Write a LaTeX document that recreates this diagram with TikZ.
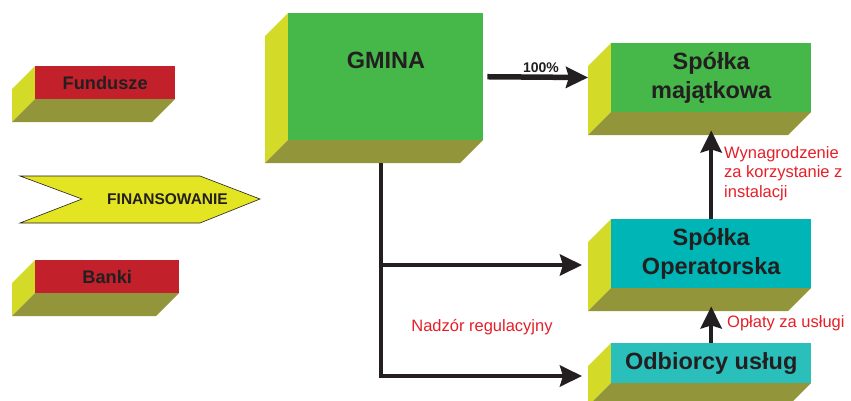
\documentclass[tikz,border=0pt]{standalone}
\usepackage{fontspec}
\setmainfont{Liberation Sans}
\usetikzlibrary{arrows.meta}
\definecolor{gGreen}{RGB}{70,183,73}
\definecolor{sideY}{RGB}{211,218,39}
\definecolor{sideO}{RGB}{146,149,58}
\definecolor{bRed}{RGB}{194,32,42}
\definecolor{tealA}{RGB}{0,181,181}
\definecolor{tealB}{RGB}{43,191,187}
\definecolor{arrY}{RGB}{227,228,34}
\definecolor{darkT}{RGB}{35,31,32}
\definecolor{redT}{RGB}{230,30,40}
\newcommand{\boxfaces}[4]{%
  \fill[sideY] (#1,#2) -- (#1-23,#2+23) -- (#1-23,#4+23) -- (#1,#4) -- cycle;
  \fill[sideO] (#1,#4) -- (#3,#4) -- (#3-23,#4+23) -- (#1-23,#4+23) -- cycle;
}
\tikzset{
  front/.style={rectangle, inner sep=0pt, anchor=north west, text=darkT, align=center,
    font=\fontsize{23.5}{29}\selectfont\bfseries},
  smallfront/.style={front, font=\fontsize{18.2}{20}\selectfont\bfseries},
  conn/.style={draw=darkT, line width=4.5pt},
  arr/.style={conn, -{Stealth[length=22pt,width=21pt,inset=3pt]}},
  redlbl/.style={text=redT, inner sep=0pt, font=\fontsize{16.5}{19.5}\selectfont}
}
\begin{document}
\begin{tikzpicture}[x=1pt,y=-1pt]
\useasboundingbox (0,0) rectangle (851,400);
\clip (0,0) rectangle (851,400);

% Fundusze
\boxfaces{35}{66}{175}{99}
\node[smallfront, fill=bRed, minimum width=140pt, minimum height=33pt] (fund) at (35,66) {Fundusze};
% Banki
\boxfaces{35}{260}{179}{293}
\node[smallfront, fill=bRed, minimum width=144pt, minimum height=33pt] (banki) at (35,260) {Banki};
% Finansowanie arrow
\draw[fill=arrY, draw=darkT, line width=0.6pt] (20,176) -- (200,176) -- (260,199) -- (200,223) -- (20,223) -- (82,199) -- cycle;
\node[text=darkT, inner sep=0pt, font=\fontsize{15.5}{17}\selectfont\bfseries] (fin) at (167.5,199) {FINANSOWANIE};

% GMINA
\boxfaces{288}{13}{483}{140}
\node[front, fill=gGreen, minimum width=195pt, minimum height=127pt] (gmina) at (288,13) {};
\node[text=darkT, inner sep=0pt, anchor=base, font=\fontsize{23.5}{29}\selectfont\bfseries] (gminaT) at (386,68) {GMINA};

% Spolka majatkowa
\boxfaces{611}{43}{811}{112}
\node[front, fill=gGreen, minimum width=200pt, minimum height=69pt] (maj) at (611,43) {Spółka\\majątkowa};
% Spolka Operatorska
\boxfaces{611}{219}{811}{288}
\node[front, fill=tealA, minimum width=200pt, minimum height=69pt] (oper) at (611,219) {Spółka\\Operatorska};
% Odbiorcy uslug
\boxfaces{611}{343}{811}{383}
\node[front, fill=tealB, minimum width=200pt, minimum height=40pt] (odb) at (611,343) {Odbiorcy usług};

% connectors
\draw[arr, line width=5.5pt, shorten <=4pt, shorten >=23pt] (gmina.east) -- (maj.west);
\node[text=darkT, inner sep=0pt, anchor=base, font=\fontsize{14}{16}\selectfont\bfseries] (pct) at (541,72) {100\%};

\coordinate (gbot) at (381,163);
\coordinate (operIn) at (582,265);
\coordinate (odbIn) at (582,376);
\draw[arr] (gbot) |- (operIn);
\draw[arr] (gbot) |- (odbIn);

\draw[arr, shorten >=18pt] (oper.north) -- (maj.south);
\draw[arr, shorten >=18pt] (odb.north) -- (oper.south);

% red labels
\node[redlbl, anchor=north west, align=left] (wyn) at (724,146) {Wynagrodzenie\\za korzystanie z\\instalacji};
\node[redlbl, anchor=base west] (opl) at (727,327) {Opłaty za usługi};
\node[redlbl, anchor=base] (nadz) at (482,331) {Nadzór regulacyjny};
\end{tikzpicture}
\end{document}
